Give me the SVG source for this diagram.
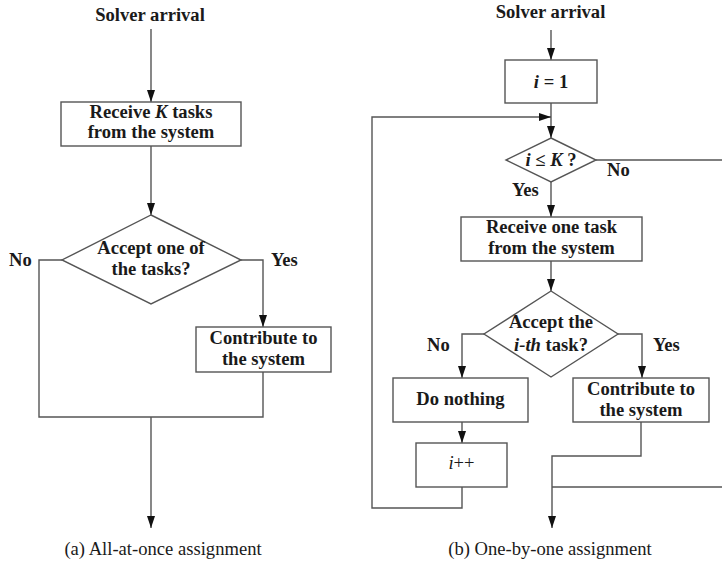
<svg xmlns="http://www.w3.org/2000/svg" width="722" height="565" viewBox="0 0 722 565">
<style>
.shape{fill:#fff;stroke:#555;stroke-width:1.4}
.ln{fill:none;stroke:#555;stroke-width:1.4}
.t{font-family:"Liberation Serif","Times New Roman",serif;font-weight:bold;font-size:18.6px;fill:#1a1a1a;text-anchor:middle}
.lbl{font-family:"Liberation Serif","Times New Roman",serif;font-weight:bold;font-size:18.6px;fill:#1a1a1a}
.cap{font-family:"Liberation Serif","Times New Roman",serif;font-size:18.6px;fill:#1a1a1a;text-anchor:middle}
.it{font-style:italic}
</style>
<defs>
<marker id="ah" markerUnits="userSpaceOnUse" markerWidth="12" markerHeight="8" refX="12" refY="4" orient="auto">
<path d="M0,0 L12,4 L0,8 z" fill="#111"/>
</marker>
</defs>
<rect width="722" height="565" fill="#fff"/>

<g id="connectors">
<path class="ln" d="M151,29 V102" marker-end="url(#ah)"/>
<path class="ln" d="M151,146 V215" marker-end="url(#ah)"/>
<path class="ln" d="M62,260 H39 V417 H263 V372"/>
<path class="ln" d="M241,260 H263 V327" marker-end="url(#ah)"/>
<path class="ln" d="M151,417 V528" marker-end="url(#ah)"/>

<path class="ln" d="M551,30 V60" marker-end="url(#ah)"/>
<path class="ln" d="M551,103 V138" marker-end="url(#ah)"/>
<path class="ln" d="M462,487 V508 H372 V117 H551" marker-end="url(#ah)"/>
<path class="ln" d="M596,160 H722"/>
<path class="ln" d="M551,182 V217" marker-end="url(#ah)"/>
<path class="ln" d="M551,261 V291" marker-end="url(#ah)"/>
<path class="ln" d="M484,334 H462 V378" marker-end="url(#ah)"/>
<path class="ln" d="M618,334 H642 V378" marker-end="url(#ah)"/>
<path class="ln" d="M462,422 V443" marker-end="url(#ah)"/>
<path class="ln" d="M641,422 V456 H552 V528" marker-end="url(#ah)"/>
<path class="ln" d="M722,487 H552"/>
</g>

<g id="a-start"><text class="t" x="150" y="21">Solver arrival</text></g>
<g id="a-receive">
<rect class="shape" x="61" y="102" width="180" height="44"/>
<text class="t" x="151" y="118">Receive <tspan class="it">K</tspan> tasks</text>
<text class="t" x="151" y="138">from the system</text>
</g>
<g id="a-accept">
<polygon class="shape" points="151,215 241,260 151,304 62,260"/>
<text class="t" x="151" y="254">Accept one of</text>
<text class="t" x="151" y="275">the tasks?</text>
</g>
<g id="a-labels">
<text class="lbl" x="9" y="266">No</text>
<text class="lbl" x="271" y="266">Yes</text>
</g>
<g id="a-contribute">
<rect class="shape" x="196" y="327" width="135" height="45"/>
<text class="t" x="263.5" y="344">Contribute to</text>
<text class="t" x="263.5" y="365">the system</text>
</g>
<g id="a-caption"><text class="cap" x="163" y="555">(a) All-at-once assignment</text></g>

<g id="b-start"><text class="t" x="550.5" y="18">Solver arrival</text></g>
<g id="b-init">
<rect class="shape" x="505" y="60" width="92" height="43"/>
<text class="t" x="551" y="88"><tspan class="it">i</tspan> = 1</text>
</g>
<g id="b-cond">
<polygon class="shape" points="551,138 596,160 551,182 506,160"/>
<text class="t" x="551" y="166"><tspan class="it">i</tspan> ≤ <tspan class="it">K</tspan> ?</text>
</g>
<g id="b-labels">
<text class="lbl" x="607" y="176">No</text>
<text class="lbl" x="512" y="196">Yes</text>
<text class="lbl" x="427" y="351">No</text>
<text class="lbl" x="653" y="351">Yes</text>
</g>
<g id="b-receive">
<rect class="shape" x="461" y="217" width="181" height="44"/>
<text class="t" x="551.5" y="233">Receive one task</text>
<text class="t" x="551.5" y="254">from the system</text>
</g>
<g id="b-accept">
<polygon class="shape" points="551,291 618,334 551,377 484,334"/>
<text class="t" x="551" y="328">Accept the</text>
<text class="t" x="551" y="351"><tspan class="it">i-th</tspan> task?</text>
</g>
<g id="b-nothing">
<rect class="shape" x="393" y="378" width="135" height="44"/>
<text class="t" x="460.5" y="405">Do nothing</text>
</g>
<g id="b-contribute">
<rect class="shape" x="573" y="378" width="136" height="44"/>
<text class="t" x="641" y="395">Contribute to</text>
<text class="t" x="641" y="416">the system</text>
</g>
<g id="b-inc">
<rect class="shape" x="416" y="443" width="91" height="44"/>
<text class="t" x="461.5" y="469" style="font-weight:normal"><tspan class="it">i</tspan>++</text>
</g>
<g id="b-caption"><text class="cap" x="550" y="555">(b) One-by-one assignment</text></g>
</svg>
